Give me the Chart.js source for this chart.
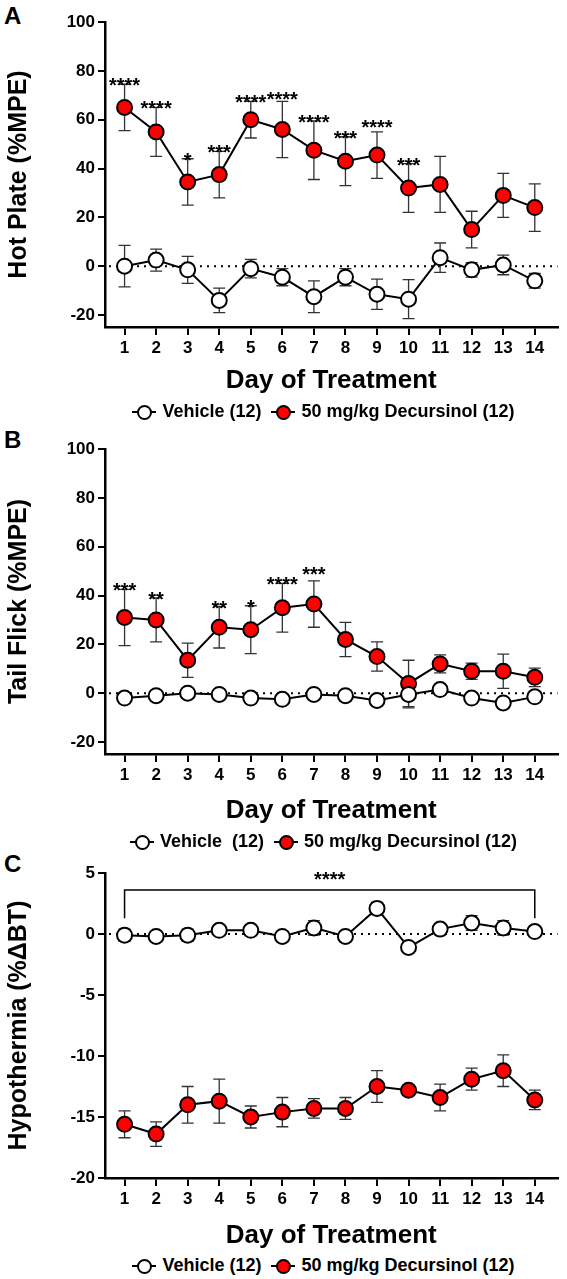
<!DOCTYPE html>
<html>
<head>
<meta charset="utf-8">
<script src="https://cdn.jsdelivr.net/npm/chart.js@4"></script>
<style>
  body { margin: 0; background: #fff; font-family: "Liberation Sans", Arial, sans-serif; }
  #wrap { position: relative; width: 567px; height: 1279px; }
  canvas { position: absolute; left: 0; }
  .letter { position: absolute; left: 4px; font-weight: bold; font-size: 24px; }
  .legend { position: absolute; left: 0; width: 567px; text-align: center; padding-left: 70px; box-sizing: border-box;
            font-weight: bold; font-size: 18px; white-space: nowrap; }
  .sym { display: inline-block; position: relative; width: 24px; height: 12px; vertical-align: middle; margin: 0 6px 0 10px; }
  .sym::before { content: ""; position: absolute; left: 0; right: 0; top: 5px; border-top: 2px solid #000; }
  .sym i { position: absolute; left: 5px; top: -1px; width: 11px; height: 11px; border: 2px solid #000; border-radius: 50%; }
</style>
</head>
<body>
<div id="wrap">
  <div class="letter" style="top:2px">A</div>
  <div class="letter" style="top:426px">B</div>
  <div class="letter" style="top:850px">C</div>
  <canvas id="chartA" width="567" height="400" style="top:0"></canvas>
  <canvas id="chartB" width="567" height="410" style="top:420px"></canvas>
  <canvas id="chartC" width="567" height="415" style="top:840px"></canvas>
  <div class="legend" style="top:401px"><span class="sym"><i style="background:#fff"></i></span>Vehicle (12)<span class="sym"><i style="background:#f00"></i></span>50 mg/kg Decursinol (12)</div>
  <div class="legend" style="top:831px"><span class="sym"><i style="background:#fff"></i></span>Vehicle&nbsp; (12)<span class="sym"><i style="background:#f00"></i></span>50 mg/kg Decursinol (12)</div>
  <div class="legend" style="top:1255px"><span class="sym"><i style="background:#fff"></i></span>Vehicle (12)<span class="sym"><i style="background:#f00"></i></span>50 mg/kg Decursinol (12)</div>
</div>
<script>
/* ---------- DATA ---------- */
const days = [1, 2, 3, 4, 5, 6, 7, 8, 9, 10, 11, 12, 13, 14];

const hotDec = [65, 55, 34.5, 37.5, 60, 56, 47.5, 43, 45.5, 32, 33.5, 15, 29, 24];
const hotDecErr = [9.5, 10, 9.5, 9.5, 7.5, 11.5, 12, 10, 9.5, 10, 11.5, 7.5, 9, 9.7];
const hotVeh = [0, 2.5, -1.5, -14, -1, -4.5, -12.5, -4.5, -11.5, -13.5, 3.5, -1.5, 0.5, -6];
const hotVehErr = [8.5, 4.5, 5.5, 5, 3.8, 3.5, 6.5, 3.5, 6.2, 8, 6, 3, 4, 3];
const hotStars = ["****", "****", "*", "***", "****", "****", "****", "***", "****", "***", "", "", "", ""];

const tailDec = [31, 30, 13.5, 27, 26, 35, 36.5, 22, 15, 4, 12, 9, 9, 6.5];
const tailDecErr = [11.5, 9, 7, 8.5, 9.8, 10, 9.5, 7, 6, 9.5, 3.7, 3.3, 7, 3.8];
const tailVeh = [-2, -1, 0, -0.5, -2, -2.5, -0.5, -1, -3, -0.5, 1.5, -2, -4, -1.5];
const tailVehErr = [0.5, 0.5, 0.5, 0.5, 0.5, 0.5, 0.5, 0.5, 0.5, 5.5, 0.5, 0.5, 0.5, 0.5];
const tailStars = ["***", "**", "", "**", "*", "****", "***", "", "", "", "", "", "", ""];

const btVeh = [-0.1, -0.2, -0.1, 0.3, 0.3, -0.2, 0.5, -0.2, 2.1, -1.1, 0.4, 0.9, 0.5, 0.2];
const btVehErr = [0.5, 0.2, 0.5, 0.3, 0.3, 0.4, 0.6, 0.2, 0.5, 0.2, 0.3, 0.6, 0.6, 0.2];
const btDec = [-15.6, -16.4, -14, -13.7, -15, -14.6, -14.3, -14.3, -12.5, -12.8, -13.4, -11.9, -11.2, -13.6];
const btDecErr = [1.1, 1.0, 1.5, 1.8, 0.9, 1.2, 0.8, 0.9, 1.3, 0.4, 1.1, 0.9, 1.3, 0.8];

const FONT = "'Liberation Sans', Arial, sans-serif";

/* ---------- error bars, stars, zero line ---------- */
const extrasPlugin = {
  id: "extras",
  beforeDatasetsDraw(chart) {
    const { ctx, scales: { x, y }, chartArea } = chart;
    // dotted zero line
    ctx.save();
    ctx.strokeStyle = "#000";
    ctx.lineWidth = 2;
    ctx.setLineDash([2, 5]);
    ctx.beginPath();
    ctx.moveTo(chartArea.left + 4, y.getPixelForValue(0));
    ctx.lineTo(chartArea.right, y.getPixelForValue(0));
    ctx.stroke();
    ctx.setLineDash([]);
    // error bars
    ctx.lineWidth = 1.3;
    ctx.strokeStyle = "#333";
    chart.data.datasets.forEach((ds) => {
      ds.data.forEach((p, i) => {
        const e = ds.err[i];
        const px = x.getPixelForValue(p.x);
        const top = y.getPixelForValue(p.y + e), bot = y.getPixelForValue(p.y - e);
        ctx.beginPath();
        ctx.moveTo(px, top); ctx.lineTo(px, bot);
        ctx.moveTo(px - 6, top); ctx.lineTo(px + 6, top);
        ctx.moveTo(px - 6, bot); ctx.lineTo(px + 6, bot);
        ctx.stroke();
      });
    });
    ctx.restore();
  },
  afterDatasetsDraw(chart, args, opts) {
    const { ctx, scales: { x, y } } = chart;
    ctx.save();
    ctx.fillStyle = "#000";
    ctx.font = "bold 20px " + FONT;
    ctx.textAlign = "center";
    ctx.textBaseline = "alphabetic";
    if (opts.stars) {
      const ds = chart.data.datasets[1];
      opts.stars.forEach((s, i) => {
        if (!s) return;
        const p = ds.data[i];
        const px = x.getPixelForValue(p.x);
        const py = y.getPixelForValue(p.y + ds.err[i]) + 8 - (opts.lift ? opts.lift[i] : 0);
        ctx.fillText(s, px, py);
      });
    }
    if (opts.bracket) {
      const x1 = x.getPixelForValue(1), x2 = x.getPixelForValue(14);
      const yt = y.getPixelForValue(3.6), yb = y.getPixelForValue(1.3);
      ctx.strokeStyle = "#000";
      ctx.lineWidth = 1.5;
      ctx.beginPath();
      ctx.moveTo(x1, yb); ctx.lineTo(x1, yt); ctx.lineTo(x2, yt); ctx.lineTo(x2, yb);
      ctx.stroke();
      ctx.fillText("****", (x1 + x2) / 2, yt - 4);
    }
    ctx.restore();
  }
};

function makePanel(id, yTitle, veh, vehErr, dec, decErr, yMin, yMax, yStep, padTop, xHeight, extras) {
  new Chart(document.getElementById(id), {
    type: "line",
    data: {
      datasets: [
        { data: veh, err: vehErr, backgroundColor: "#fff" },
        { data: dec, err: decErr, backgroundColor: "#f00" }
      ].map((d) => ({
        ...d,
        data: d.data.map((v, i) => ({ x: days[i], y: v })),
        borderColor: "#000", borderWidth: 2,
        pointRadius: 7.5, pointBorderWidth: 2, pointBorderColor: "#000",
        pointBackgroundColor: d.backgroundColor, tension: 0
      }))
    },
    options: {
      responsive: false,
      animation: false,
      layout: { padding: { top: padTop, right: 2, left: 0, bottom: 0 } },
      plugins: { legend: { display: false }, tooltip: { enabled: false }, extras },
      scales: {
        x: {
          type: "linear", min: 0.38, max: 14.72,
          afterBuildTicks: (ax) => { ax.ticks = days.map((d) => ({ value: d })); },
          afterFit: (ax) => { ax.height = xHeight; },
          border: { color: "#000", width: 2.5 },
          grid: { drawOnChartArea: false, color: "#000", lineWidth: 2, tickLength: 8 },
          ticks: { color: "#000", font: { family: FONT, size: 17, weight: "bold" }, padding: 3, maxRotation: 0 },
          title: { display: true, text: "Day of Treatment", color: "#000", font: { family: FONT, size: 26, weight: "bold" }, padding: { top: 12 } }
        },
        y: {
          min: yMin, max: yMax,
          afterBuildTicks: (ax) => {
            const t = [];
            for (let v = yMax; v >= yMin - 0.01; v -= yStep) t.push({ value: v });
            ax.ticks = t.reverse().filter((k) => k.value >= yMin);
          },
          afterFit: (ax) => { ax.width = 105; },
          border: { color: "#000", width: 2.5 },
          grid: { drawOnChartArea: false, color: "#000", lineWidth: 2, tickLength: 7 },
          ticks: { color: "#000", font: { family: FONT, size: 17, weight: "bold" }, padding: 3 },
          title: { display: true, text: yTitle, color: "#000", font: { family: FONT, size: 25, weight: "bold" }, padding: { bottom: 2 } }
        }
      }
    },
    plugins: [extrasPlugin]
  });
}

makePanel("chartA", "Hot Plate (%MPE)", hotVeh, hotVehErr, hotDec, hotDecErr, -24.9, 100, 20, 22, 73,
  { stars: hotStars, lift: [0, 0, 0, 0, 0, 3, 0, 0, 6, 0, 0, 0, 0, 0] });
makePanel("chartB", "Tail Flick (%MPE)", tailVeh, tailVehErr, tailDec, tailDecErr, -24.9, 100, 20, 29, 76,
  { stars: tailStars, lift: [0, 0, 0, 0, 0, 0, 8, 0, 0, 0, 0, 0, 0, 0] });
makePanel("chartC", "Hypothermia (%\u0394BT)", btVeh, btVehErr, btDec, btDecErr, -20, 5, 5, 33, 77,
  { bracket: true });
</script>
</body>
</html>
